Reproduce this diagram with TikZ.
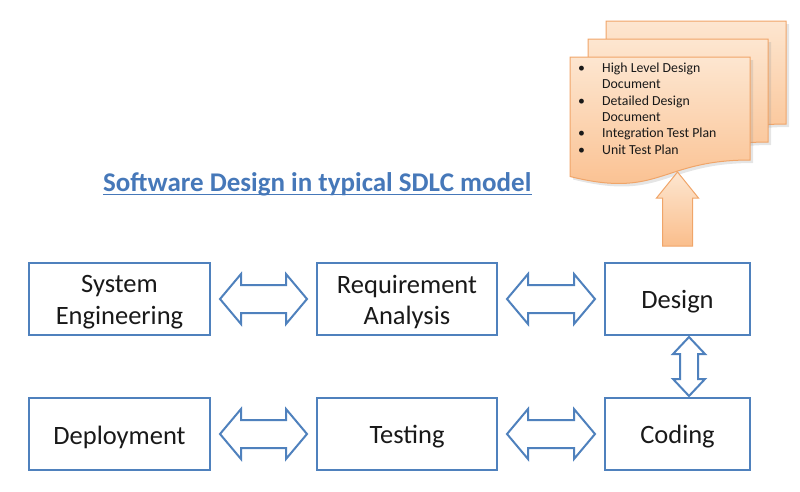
\documentclass[tikz,border=0pt]{standalone}
\usepackage{fontspec}
\setmainfont{Carlito}
\usetikzlibrary{calc}
\definecolor{boxblue}{RGB}{79,129,189}
\definecolor{titleblue}{RGB}{70,120,185}
\definecolor{docedge}{RGB}{240,165,105}
\definecolor{doctop}{RGB}{253,230,208}
\definecolor{docbot}{RGB}{250,190,140}
\begin{document}
\begin{tikzpicture}[x=1pt,y=-1pt,
  stagebox/.style={draw=boxblue, line width=2pt, minimum height=72pt, inner sep=0pt},
  stagetext/.style={inner sep=0pt, font=\fontsize{26.5}{31.5}\selectfont, align=center, text=black!90},
  dblarrow/.style={draw=boxblue, line width=2pt, fill=white, line join=miter},
  docshape/.style={draw=docedge, line width=1pt, top color=doctop, bottom color=docbot},
  docshadow/.style={fill=black!40, opacity=0.25},
  uparrowstyle/.style={draw=docedge, line width=1pt, top color=doctop, bottom color=docbot}
]
\useasboundingbox (0,0) rectangle (800,491);

% stage boxes
\node[stagebox, minimum width=181pt] (se) at (119.5,299) {};
\node[stagebox, minimum width=180pt] (ra) at (407,299) {};
\node[stagebox, minimum width=145pt] (design) at (677.5,299) {};
\node[stagebox, minimum width=181pt] (deploy) at (119.5,434) {};
\node[stagebox, minimum width=180pt] (test) at (407,434) {};
\node[stagebox, minimum width=145pt] (coding) at (677.5,434) {};
\node[stagetext] (se-t) at ([yshift=-3pt]se.center) {System\\Engineering};
\node[stagetext] (ra-t) at ([yshift=-3pt]ra.center) {Requirement\\Analysis};
\node[stagetext] (design-t) at ([yshift=-3pt]design.center) {Design};
\node[stagetext] (deploy-t) at ([yshift=-3pt]deploy.center) {Deployment};
\node[stagetext] (test-t) at ([yshift=-3pt]test.center) {Testing};
\node[stagetext] (coding-t) at ([yshift=-3pt]coding.center) {Coding};

% horizontal double arrows
\foreach \a/\b in {se/ra, ra/design, deploy/test, test/coding}{
  \draw[dblarrow] let \p1=(\a.east), \p2=(\b.west) in
    (\x1+9pt,\y1) -- (\x1+30pt,\y1+25pt) -- (\x1+30pt,\y1+14pt) -- (\x2-30pt,\y1+14pt)
    -- (\x2-30pt,\y1+25pt) -- (\x2-9pt,\y1) -- (\x2-30pt,\y1-25pt) -- (\x2-30pt,\y1-14pt)
    -- (\x1+30pt,\y1-14pt) -- (\x1+30pt,\y1-25pt) -- cycle;
}

% vertical double arrow
\draw[dblarrow] let \p1=([xshift=11.5pt]design.south), \p2=([xshift=11.5pt]coding.north) in
  (\x1,\y1-1pt) -- (\x1+16pt,\y1-18pt) -- (\x1+9pt,\y1-18pt) -- (\x1+9pt,\y2+18pt)
  -- (\x1+16pt,\y2+18pt) -- (\x1,\y2+1pt) -- (\x1-16pt,\y2+18pt) -- (\x1-9pt,\y2+18pt)
  -- (\x1-9pt,\y1-18pt) -- (\x1-16pt,\y1-18pt) -- cycle;

% document stack
\foreach \dx/\dy in {606/21, 588/39, 570/57}{
  \begin{scope}[shift={(\dx,\dy)}]
    \fill[docshadow] (3,3) -- (183,3) -- (183,106) .. controls (93,106) and (93,145) .. (3,122.5) -- cycle;
    \draw[docshape] (0,0) -- (180,0) -- (180,103) .. controls (90,103) and (90,142) .. (0,119.5) -- cycle;
  \end{scope}
}
\node[anchor=base west, inner sep=0pt, font=\fontsize{13.8}{16.3}\selectfont, text=black!90] (doclist) at (578,72.5)
  {\begin{tabular}[t]{@{}p{24pt}@{}l@{}}
   \textbullet & High Level Design\\
               & Document\\
   \textbullet & Detailed Design\\
               & Document\\
   \textbullet & Integration Test Plan\\
   \textbullet & Unit Test Plan
   \end{tabular}};

% up arrow from design to documents
\draw[uparrowstyle] let \p1=([yshift=16pt]design.north) in
  (\x1-15pt,\y1) -- (\x1-15pt,\y1+48pt) -- (\x1-21pt,\y1+48pt) -- (\x1,\y1+74pt)
  -- (\x1+21pt,\y1+48pt) -- (\x1+15pt,\y1+48pt) -- (\x1+15pt,\y1) -- cycle;

% title
\node[anchor=base west, inner sep=0pt, font=\fontsize{27}{32}\selectfont\bfseries, text=titleblue] (title) at (103,191)
  {Software Design in typical SDLC model};
\draw[titleblue, line width=1.5pt] ([yshift=-3.5pt]title.base west) -- ([yshift=-3.5pt]title.base east);
\end{tikzpicture}
\end{document}
